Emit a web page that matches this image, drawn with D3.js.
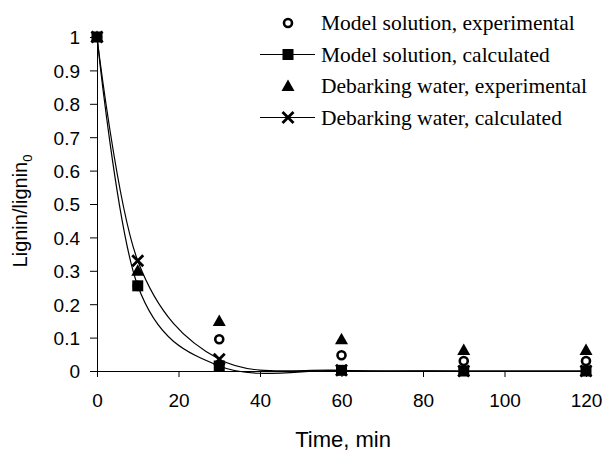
<!DOCTYPE html>
<html>
<head>
<meta charset="utf-8">
<script src="https://cdn.jsdelivr.net/npm/d3@7"></script>
<style>
  body { margin: 0; background: #fff; }
  svg { display: block; }
</style>
</head>
<body>
<svg id="chart" width="606" height="452"></svg>
<script>
const times = [0, 10, 30, 60, 90, 120];
const modelExperimental = [1, 0.255, 0.095, 0.047, 0.03, 0.03];
const modelCalculated = [1, 0.255, 0.015, 0.002, 0, 0];
const debarkingExperimental = [1, 0.3, 0.15, 0.095, 0.063, 0.063];
const debarkingCalculated = [1, 0.33, 0.035, 0.002, 0, 0];
const xTicks = [0, 20, 40, 60, 80, 100, 120];
const yTicks = [0, 0.1, 0.2, 0.3, 0.4, 0.5, 0.6, 0.7, 0.8, 0.9, 1];
const legendLabels = [
  'Model solution, experimental',
  'Model solution, calculated',
  'Debarking water, experimental',
  'Debarking water, calculated',
];

const svg = d3.select('#chart');
const margin = { top: 37, right: 20, bottom: 81, left: 97 };
const width = 606;
const height = 452;

const x = d3.scaleLinear().domain([0, 120]).range([margin.left, width - margin.right]);
const y = d3.scaleLinear().domain([0, 1]).range([height - margin.bottom, margin.top]);

const sans = 'Liberation Sans, Arial, sans-serif';
const serif = 'Liberation Serif, Times New Roman, serif';

// axes
const xAxis = svg.append('g')
  .attr('transform', `translate(0,${y(0)})`)
  .call(d3.axisBottom(x).tickValues(xTicks).tickSize(6).tickSizeOuter(0).tickPadding(17));
const yAxis = svg.append('g')
  .attr('transform', `translate(${x(0)},0)`)
  .call(d3.axisLeft(y).tickValues(yTicks).tickSize(7).tickSizeOuter(0).tickPadding(10)
    .tickFormat(d => d3.format('')(+d.toFixed(1))));

[xAxis, yAxis].forEach(g => {
  g.selectAll('path, line').attr('stroke', '#000').attr('stroke-width', 1);
  g.selectAll('text').attr('fill', '#000').attr('font-family', sans).attr('font-size', 19);
});
yAxis.selectAll('text').attr('dy', '0.36em');

svg.append('text')
  .attr('x', 343).attr('y', 447)
  .attr('text-anchor', 'middle')
  .attr('font-family', sans).attr('font-size', 22)
  .text('Time, min');

const yTitle = svg.append('text')
  .attr('transform', 'translate(27,211) rotate(-90)')
  .attr('text-anchor', 'middle')
  .attr('font-family', sans).attr('font-size', 20);
yTitle.append('tspan').text('Lignin/lignin');
yTitle.append('tspan').attr('font-size', 13).attr('dy', '0.4em').text('0');

// smoothed lines
const line = d3.line()
  .x((d, i) => x(times[i]))
  .y(d => y(d))
  .curve(d3.curveCardinal.tension(0));

[modelCalculated, debarkingCalculated].forEach(series => {
  svg.append('path')
    .attr('d', line(series))
    .attr('fill', 'none')
    .attr('stroke', '#000')
    .attr('stroke-width', 1.2);
});

// markers
const drawMarker = (g, kind, cx, cy) => {
  if (kind === 'triangle') {
    g.append('path')
      .attr('d', `M${cx},${cy - 6.5}L${cx + 6.5},${cy + 5}L${cx - 6.5},${cy + 5}Z`)
      .attr('fill', '#000');
  } else if (kind === 'square') {
    g.append('rect').attr('x', cx - 5.5).attr('y', cy - 5.5).attr('width', 11).attr('height', 11).attr('fill', '#000');
  } else if (kind === 'circle') {
    g.append('circle').attr('cx', cx).attr('cy', cy).attr('r', 4)
      .attr('fill', '#fff').attr('stroke', '#000').attr('stroke-width', 2.6);
  } else if (kind === 'cross') {
    const s = 5.5;
    g.append('path')
      .attr('d', `M${cx - s},${cy - s}L${cx + s},${cy + s}M${cx - s},${cy + s}L${cx + s},${cy - s}`)
      .attr('stroke', '#000').attr('stroke-width', 2.8).attr('fill', 'none');
  }
};

const seriesList = [
  { values: debarkingExperimental, kind: 'triangle' },
  { values: modelExperimental, kind: 'circle' },
  { values: debarkingCalculated, kind: 'cross' },
  { values: modelCalculated, kind: 'square' },
];
seriesList.forEach(s => {
  const g = svg.append('g');
  s.values.forEach((v, i) => drawMarker(g, s.kind, x(times[i]), y(v)));
});

// legend
const legendKinds = ['circle', 'square', 'triangle', 'cross'];
const legendLines = [false, true, false, true];
const legend = svg.append('g');
legendLabels.forEach((label, i) => {
  const cy = 23 + i * 31.5;
  if (legendLines[i]) {
    legend.append('line').attr('x1', 260).attr('x2', 315).attr('y1', cy).attr('y2', cy)
      .attr('stroke', '#000').attr('stroke-width', 1.2);
  }
  drawMarker(legend, legendKinds[i], 288, cy);
  legend.append('text')
    .attr('x', 321).attr('y', cy).attr('dy', '0.33em')
    .attr('font-family', serif).attr('font-size', 21.5)
    .text(label);
});
</script>
</body>
</html>
